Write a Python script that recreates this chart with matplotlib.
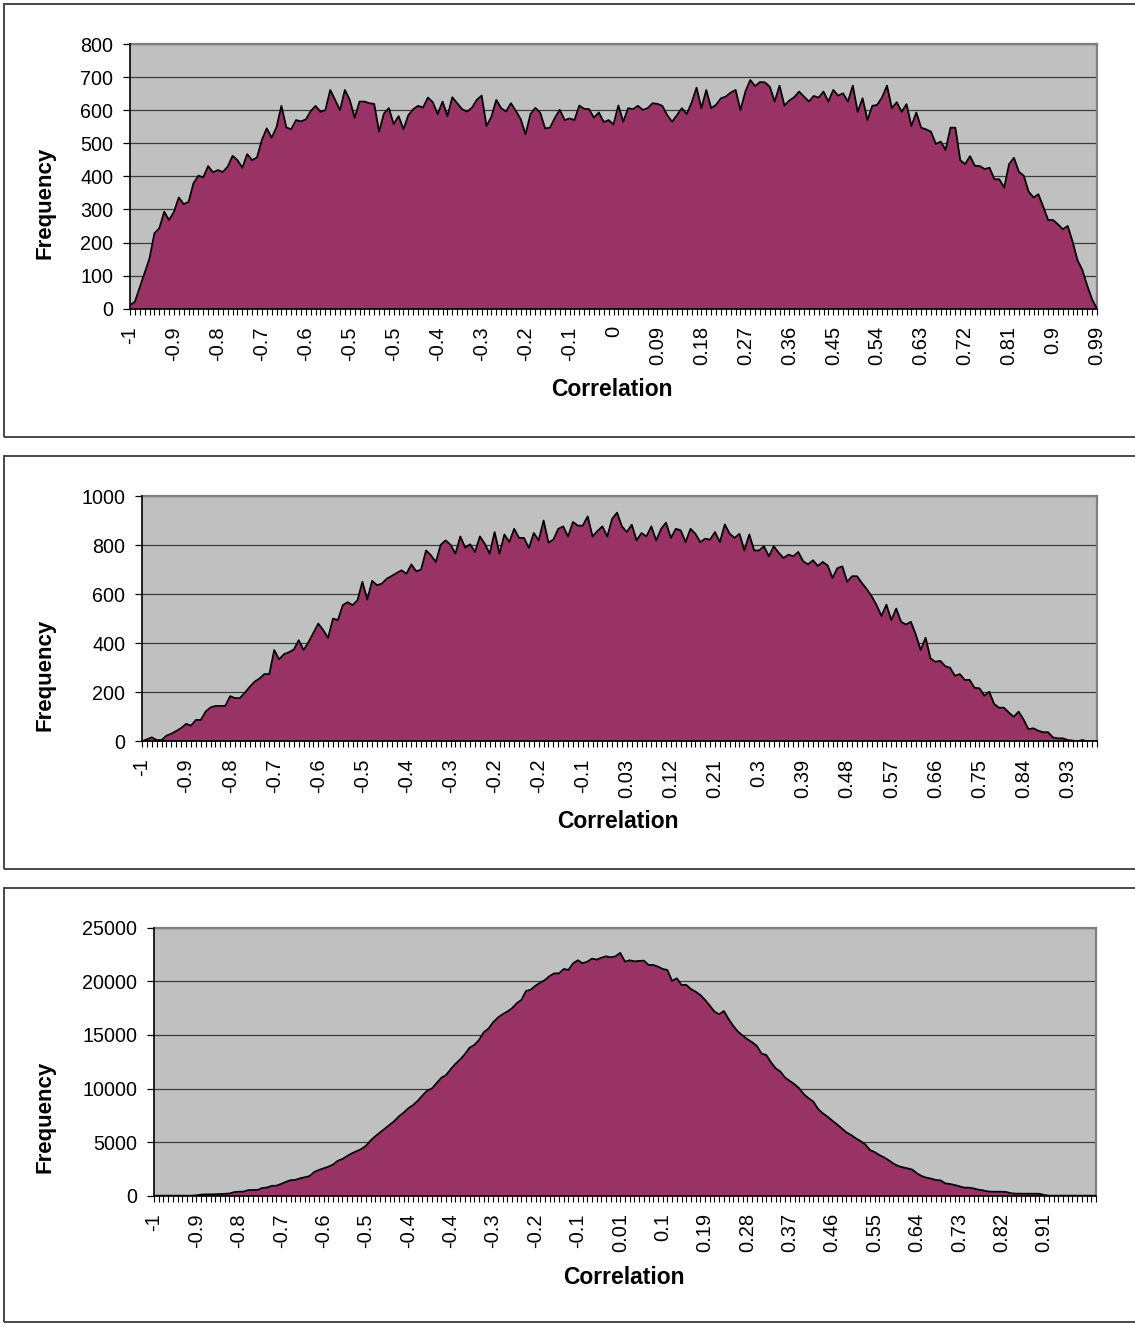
import matplotlib
matplotlib.use("Agg")
import matplotlib.pyplot as plt
from matplotlib.patches import Rectangle
import numpy as np

plt.rcParams['font.family'] = ['Liberation Sans', 'DejaVu Sans']

# frequency counts per correlation bin, three runs
freq_a = [11, 21, 65, 110, 152, 228, 243, 293, 268, 293,
          336, 316, 323, 379, 402, 397, 431, 412, 419, 413,
          429, 462, 449, 426, 467, 449, 457, 510, 545, 517,
          548, 613, 548, 542, 570, 566, 572, 597, 613, 595,
          600, 661, 631, 600, 661, 631, 577, 626, 626, 621,
          619, 535, 590, 606, 558, 582, 542, 585, 603, 613,
          608, 638, 624, 588, 626, 582, 639, 621, 603, 596,
          607, 631, 644, 552, 580, 631, 606, 596, 621, 598,
          573, 527, 588, 607, 592, 545, 547, 577, 601, 570,
          575, 570, 614, 604, 603, 577, 593, 564, 570, 557,
          614, 565, 606, 603, 613, 601, 606, 621, 619, 613,
          585, 565, 585, 606, 588, 623, 668, 606, 661, 606,
          616, 636, 641, 653, 661, 600, 656, 691, 673, 685,
          684, 671, 626, 674, 614, 629, 639, 656, 641, 626,
          643, 638, 656, 626, 661, 644, 651, 626, 674, 595,
          636, 570, 613, 616, 639, 674, 606, 624, 595, 618,
          552, 593, 547, 542, 535, 498, 505, 480, 547, 547,
          449, 437, 461, 432, 431, 422, 426, 391, 391, 366,
          437, 456, 414, 402, 354, 336, 346, 308, 268, 268,
          255, 240, 250, 203, 147, 117, 70, 28, 0]

freq_b = [0, 8, 16, 5, 5, 23, 31, 42, 54, 71,
          64, 87, 87, 121, 138, 144, 144, 144, 184, 176,
          176, 198, 222, 243, 256, 274, 274, 372, 334, 355,
          363, 374, 412, 372, 404, 442, 480, 453, 422, 500,
          494, 555, 567, 555, 575, 650, 578, 654, 636, 643,
          663, 674, 686, 697, 683, 721, 693, 700, 778, 758,
          731, 801, 819, 801, 765, 835, 789, 803, 772, 835,
          805, 765, 853, 765, 843, 812, 866, 829, 829, 788,
          849, 819, 900, 810, 822, 866, 876, 835, 894, 879,
          879, 917, 835, 857, 876, 835, 907, 932, 876, 853,
          883, 819, 849, 835, 876, 819, 866, 891, 829, 866,
          860, 812, 866, 846, 812, 826, 822, 853, 812, 884,
          846, 829, 846, 778, 843, 778, 778, 795, 754, 795,
          769, 747, 761, 754, 772, 734, 721, 738, 715, 731,
          717, 666, 706, 713, 650, 673, 673, 645, 620, 591,
          555, 511, 557, 494, 541, 487, 476, 487, 435, 372,
          422, 338, 324, 328, 306, 300, 267, 274, 250, 250,
          218, 216, 186, 202, 152, 137, 137, 117, 100, 121,
          89, 49, 53, 43, 37, 37, 16, 12, 12, 5,
          3, 0, 5, 0, 0, 0]

freq_c = [0, 0, 0, 0, 0, 0, 0, 0, 0, 30,
          100, 120, 120, 130, 150, 160, 200, 330, 370, 380,
          520, 530, 540, 720, 760, 920, 930, 1100, 1290, 1440,
          1470, 1620, 1720, 1820, 2200, 2400, 2550, 2700, 2900, 3250,
          3420, 3700, 3950, 4150, 4350, 4650, 5150, 5550, 5900, 6250,
          6600, 6950, 7400, 7750, 8150, 8450, 8850, 9350, 9800, 10000,
          10500, 11000, 11250, 11800, 12300, 12700, 13200, 13800, 14060, 14520,
          15240, 15580, 16170, 16610, 16920, 17170, 17480, 17940, 18260, 19100,
          19220, 19590, 19870, 20120, 20490, 20740, 20740, 21150, 21060, 21680,
          21960, 21680, 21830, 22110, 22020, 22200, 22330, 22240, 22330, 22650,
          21830, 21960, 21860, 21890, 21930, 21520, 21520, 21370, 21150, 21050,
          20030, 20280, 19660, 19660, 19280, 19030, 18720, 18260, 17730, 17170,
          16920, 17230, 16480, 15830, 15300, 14930, 14590, 14310, 13960, 13250,
          13120, 12440, 11880, 11570, 11010, 10700, 10390, 10010, 9450, 9080,
          8770, 8090, 7680, 7370, 7000, 6660, 6280, 5910, 5660, 5350,
          5100, 4790, 4260, 4070, 3790, 3580, 3300, 2990, 2770, 2640,
          2550, 2430, 2080, 1830, 1680, 1590, 1460, 1430, 1150, 1090,
          1000, 870, 750, 750, 680, 560, 500, 400, 370, 370,
          370, 340, 220, 190, 190, 190, 190, 190, 180, 60,
          0, 0, 0, 0, 0, 0, 0, 0, 0, 0,
          0]

# category labels shown on every 9th bin
labels_a = ['-1', '-0.9', '-0.8', '-0.7', '-0.6', '-0.5', '-0.5', '-0.4', '-0.3',
            '-0.2', '-0.1', '0', '0.09', '0.18', '0.27', '0.36', '0.45', '0.54',
            '0.63', '0.72', '0.81', '0.9', '0.99']
labels_b = ['-1', '-0.9', '-0.8', '-0.7', '-0.6', '-0.5', '-0.4', '-0.3', '-0.2',
            '-0.2', '-0.1', '0.03', '0.12', '0.21', '0.3', '0.39', '0.48', '0.57',
            '0.66', '0.75', '0.84', '0.93']
labels_c = ['-1', '-0.9', '-0.8', '-0.7', '-0.6', '-0.5', '-0.4', '-0.4', '-0.3',
            '-0.2', '-0.1', '0.01', '0.1', '0.19', '0.28', '0.37', '0.46', '0.55',
            '0.64', '0.73', '0.82', '0.91']

W, H = 1135, 1325
fig = plt.figure(figsize=(W / 100, H / 100), dpi=100)
fig.patch.set_facecolor('white')


def px_axes(left, top, right, bottom):
    return fig.add_axes([left / W, 1 - bottom / H, (right - left) / W, (bottom - top) / H])


def frame(top, bottom):
    fig.add_artist(Rectangle((4 / W, 1 - bottom / H), (W + 10) / W, (bottom - top) / H,
                             transform=fig.transFigure, fill=False,
                             edgecolor='#3a3a3a', linewidth=1.3, clip_on=False))


def panel(ax, values, labels, ymax, ystep, ylab_pos, xlab_pos):
    x = np.arange(len(values))
    ax.set_facecolor('#C0C0C0')
    ax.fill_between(x, values, 0, color='#993366', linewidth=0, zorder=2)
    ax.plot(x, values, color='black', linewidth=1.3, zorder=3)
    ax.set_xlim(0, len(values) - 1)
    ax.set_ylim(0, ymax)
    ax.set_yticks(np.arange(0, ymax + 1, ystep))
    ax.yaxis.grid(True, color='#3c3c3c', linewidth=0.9)
    ax.set_axisbelow(True)

    ticklabels = [''] * len(values)
    for k, lab in enumerate(labels):
        ticklabels[k * 9] = lab
    ax.set_xticks(x)
    ax.set_xticklabels(ticklabels, rotation=90, fontsize=14.5)
    ax.tick_params(axis='x', length=4, width=0.8, pad=8.5, color='black')
    ax.tick_params(axis='y', length=4.7, width=0.9, pad=7.4, labelsize=14.2)

    for s in ['left', 'bottom']:
        ax.spines[s].set_color('black')
        ax.spines[s].set_linewidth(1.2)
        ax.spines[s].set_zorder(4)
    for s in ['top', 'right']:
        ax.spines[s].set_color('#808080')
        ax.spines[s].set_linewidth(1.6)

    fig.text(ylab_pos[0] / W, 1 - ylab_pos[1] / H, 'Frequency', rotation=90,
             ha='center', va='center', fontsize=16, fontweight='bold')
    fig.text(xlab_pos[0] / W, 1 - xlab_pos[1] / H, 'Correlation',
             ha='center', va='center', fontsize=16.5, fontweight='bold')


frame(4, 437)
frame(456, 869)
frame(888, 1322)

ax1 = px_axes(130, 44, 1097, 308.7)
panel(ax1, freq_a, labels_a, 800, 100, (45, 203), (612, 390))

ax2 = px_axes(142, 496, 1097, 741.3)
panel(ax2, freq_b, labels_b, 1000, 200, (45, 675), (618, 822))

ax3 = px_axes(154, 927.7, 1096, 1195.7)
panel(ax3, freq_c, labels_c, 25000, 5000, (45, 1117), (624, 1277))

fig.savefig('out.png', dpi=100)
